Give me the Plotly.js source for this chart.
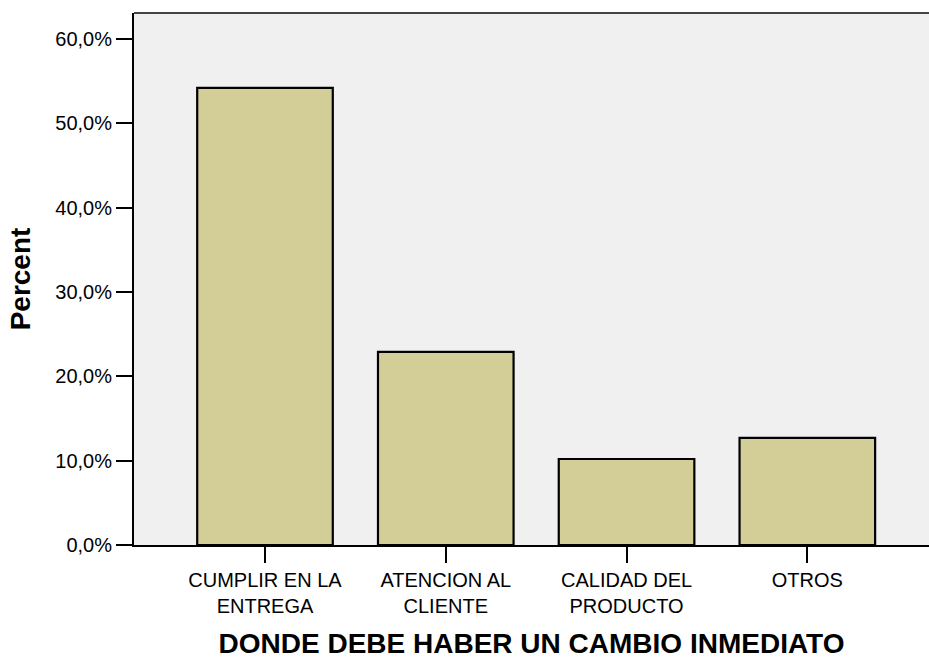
<!DOCTYPE html>
<html>
<head>
<meta charset="utf-8">
<script src="https://cdn.plot.ly/plotly-3.0.1.min.js"></script>
<style>html,body{margin:0;padding:0;background:#fff;}#chart{width:929px;height:659px;}</style>
</head>
<body>
<div id="chart"></div>
<script>
const categories = ["CUMPLIR EN LA<br>ENTREGA", "ATENCION AL<br>CLIENTE", "CALIDAD DEL<br>PRODUCTO", "OTROS"];
const percentValues = [54.2, 22.9, 10.2, 12.7];
const yTickValues = [0, 10, 20, 30, 40, 50, 60];
const yTickLabels = ["0,0%", "10,0%", "20,0%", "30,0%", "40,0%", "50,0%", "60,0%"];
const xTitle = "DONDE DEBE HABER UN CAMBIO INMEDIATO";
const yTitle = "Percent";

const font = "Liberation Sans, Arial, sans-serif";

const trace = {
  type: "bar",
  x: categories,
  y: percentValues,
  width: 0.75,
  marker: { color: "#d3ce97", line: { color: "#000000", width: 2.2 } },
  hoverinfo: "skip"
};

const layout = {
  width: 929,
  height: 659,
  margin: { l: 134, r: 0, t: 13, b: 114, pad: 0 },
  paper_bgcolor: "#ffffff",
  plot_bgcolor: "#f0f0f0",
  showlegend: false,
  bargap: 0.25,
  xaxis: {
    type: "category",
    range: [-0.7246, 3.673],
    showgrid: false,
    zeroline: false,
    showline: true,
    linecolor: "#000000",
    linewidth: 2,
    ticks: "outside",
    ticklen: 16,
    tickwidth: 2,
    tickcolor: "#000000",
    tickfont: { family: font, size: 20, color: "#000000" },
    title: { text: xTitle, font: { family: font, size: 28, color: "#000000", weight: "bold" }, standoff: 19 },
    automargin: false,
    fixedrange: true
  },
  yaxis: {
    range: [0, 63.08],
    showgrid: false,
    zeroline: false,
    showline: true,
    linecolor: "#000000",
    linewidth: 2,
    ticks: "outside",
    ticklen: 16,
    tickwidth: 2,
    tickcolor: "#000000",
    tickmode: "array",
    tickvals: yTickValues,
    ticktext: yTickLabels,
    tickfont: { family: font, size: 20, color: "#000000" },
    title: { text: yTitle, font: { family: font, size: 28, color: "#000000", weight: "bold" }, standoff: 16 },
    automargin: false,
    fixedrange: true
  },
  shapes: [
    { type: "line", xref: "paper", yref: "paper", x0: 0, x1: 1, y0: 1, y1: 1, line: { color: "#444444", width: 2 } }
  ]
};

Plotly.newPlot("chart", [trace], layout, { displayModeBar: false, staticPlot: true });
</script>
</body>
</html>
